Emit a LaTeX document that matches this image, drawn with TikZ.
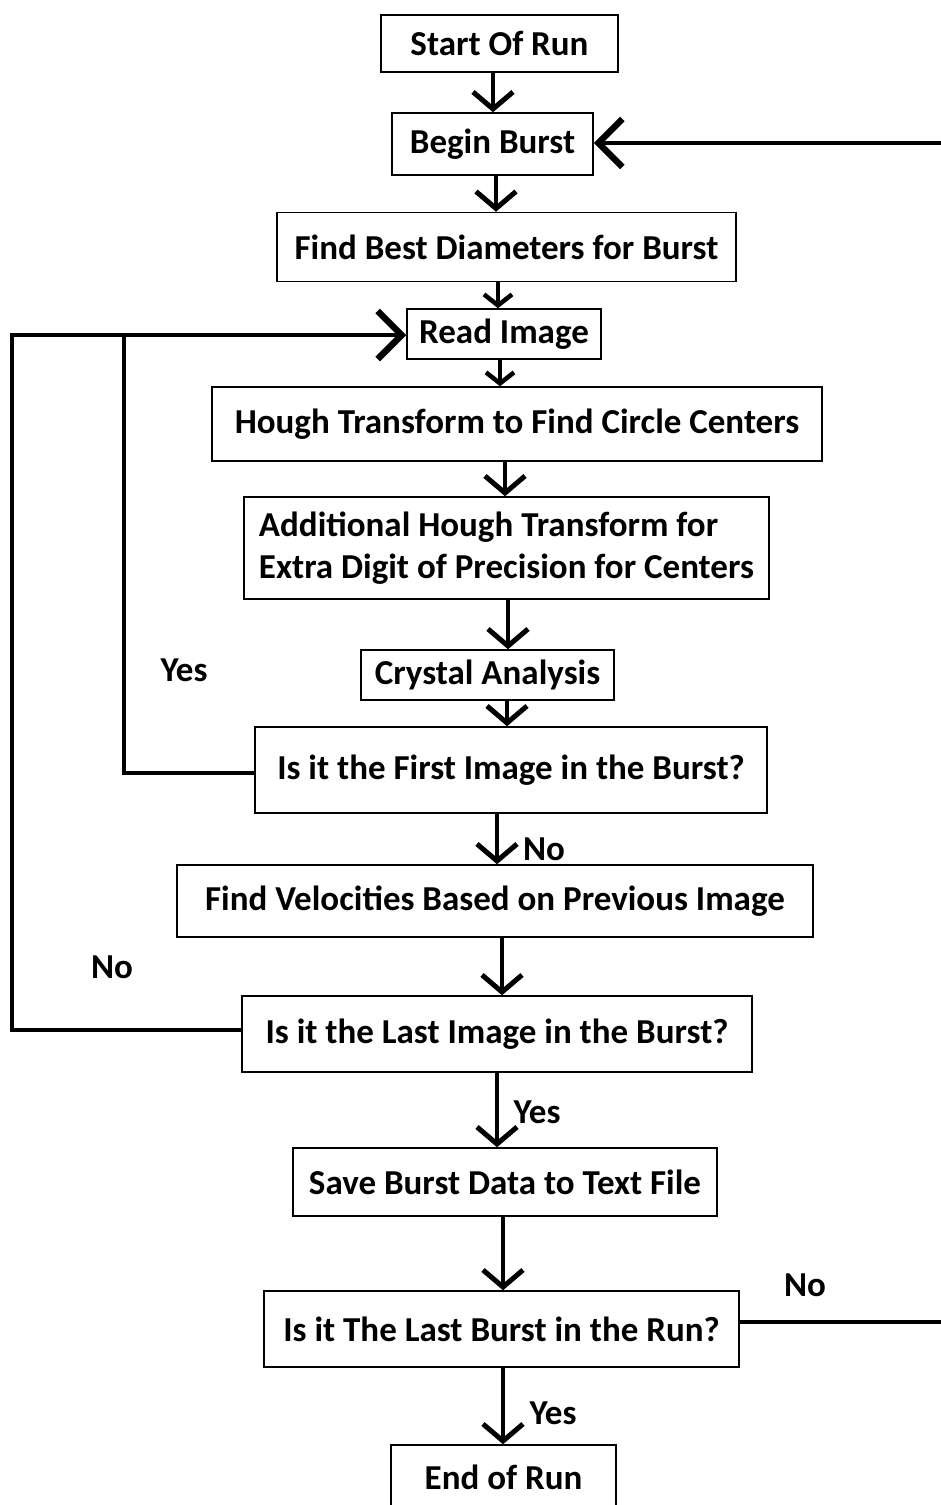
\documentclass[tikz,border=0pt]{standalone}
\usepackage{fontspec}
\setmainfont{Carlito}
\usetikzlibrary{arrows.meta}
\begin{document}
\begin{tikzpicture}[x=1pt,y=-1pt,
  box/.style={draw, line width=1.5pt, inner sep=0pt, font=\bfseries\fontsize{35}{42}\selectfont},
  lbl/.style={font=\bfseries\fontsize{35}{42}\selectfont, inner sep=0pt},
  arr/.style={line width=4pt, -{Straight Barb[length=17pt,width=40pt,line width=5pt]}},
  smallarr/.style={line width=4pt, -{Straight Barb[length=11pt,width=28pt,line width=4.5pt]}},
  bigarr/.style={line width=4.5pt, line join=miter, -{Straight Barb[length=24pt,width=48pt,line width=6.5pt]}},
  wire/.style={line width=4pt, line join=miter}]
\useasboundingbox (0,0) rectangle (940,1505);
\fill[white] (0,0) rectangle (940,1505);

% boxes
\node[box, minimum width=237pt, minimum height=57pt] (start) at (499.5,43.5) {Start Of Run};
\node[box, minimum width=201pt, minimum height=62pt] (begin) at (492.5,144) {Begin Burst};
\node[box, minimum width=459pt, minimum height=69pt] (best) at (506.5,247) {Find Best Diameters for Burst};
\node[box, minimum width=194pt, minimum height=50pt] (read) at (504,334) {Read Image};
\node[box, minimum width=610pt, minimum height=74pt] (hough) at (517,424) {Hough Transform to Find Circle Centers};
\node[box, minimum width=525pt, minimum height=102pt, align=left] (add) at (506.5,548) {Additional Hough Transform for\\Extra Digit of Precision for Centers};
\node[box, minimum width=253pt, minimum height=50pt] (crystal) at (487.5,675) {Crystal Analysis};
\node[box, minimum width=512pt, minimum height=86pt] (first) at (511,770) {Is it the First Image in the Burst?};
\node[box, minimum width=636pt, minimum height=72pt] (vel) at (495,901) {Find Velocities Based on Previous Image};
\node[box, minimum width=510pt, minimum height=76pt] (lastimg) at (497,1034) {Is it the Last Image in the Burst?};
\node[box, minimum width=424pt, minimum height=68pt] (save) at (505,1182) {Save Burst Data to Text File};
\node[box, minimum width=475pt, minimum height=76pt] (lastburst) at (501.5,1329) {Is it The Last Burst in the Run?};
\node[box, minimum width=225pt, minimum height=64pt] (end) at (503.5,1477) {End of Run};

% labels
\node[lbl] (yes1) at (184,670) {Yes};
\node[lbl] (no1) at (112,967) {No};
\node[lbl] (no2) at (544,849) {No};
\node[lbl] (yes2) at (537,1112) {Yes};
\node[lbl] (no3) at (805,1285) {No};
\node[lbl] (yes3) at (553,1413) {Yes};

% x positions of vertical arrows
\coordinate (a1) at (493,0);
\coordinate (a2) at (496,0);
\coordinate (a3) at (498,0);
\coordinate (a4) at (500,0);
\coordinate (a5) at (505,0);
\coordinate (a6) at (508,0);
\coordinate (a7) at (507,0);
\coordinate (a8) at (497,0);
\coordinate (a9) at (502,0);
\coordinate (a10) at (497,0);
\coordinate (a11) at (503,0);
\coordinate (a12) at (503,0);
\coordinate (lx) at (12,0);
\coordinate (yx) at (124,0);
\coordinate (rx) at (946,0);

\draw[arr] (start.south -| a1) -- (begin.north -| a1);
\draw[arr] (begin.south -| a2) -- (best.north -| a2);
\draw[smallarr] (best.south -| a3) -- (read.north -| a3);
\draw[smallarr] (read.south -| a4) -- (hough.north -| a4);
\draw[arr] (hough.south -| a5) -- (add.north -| a5);
\draw[arr] (add.south -| a6) -- (crystal.north -| a6);
\draw[arr] (crystal.south -| a7) -- (first.north -| a7);
\draw[arr] (first.south -| a8) -- (vel.north -| a8);
\draw[arr] (vel.south -| a9) -- (lastimg.north -| a9);
\draw[arr] (lastimg.south -| a10) -- (save.north -| a10);
\draw[arr] (save.south -| a11) -- (lastburst.north -| a11);
\draw[arr] (lastburst.south -| a12) -- (end.north -| a12);

% loop anchor points
\coordinate (liw) at ([yshift=4pt]lastimg.west);
\coordinate (fiw) at ([yshift=-3pt]first.west);
\coordinate (lbe) at ([yshift=7pt]lastburst.east);
\coordinate (bbe) at ([yshift=1pt]begin.east);
\coordinate (riw) at ([yshift=-1pt]read.west);

% loops
\draw[bigarr] (liw) -- (liw -| lx) -- (riw -| lx) -- (riw);
\draw[wire] (fiw) -- (fiw -| yx) -- (riw -| yx);
\draw[bigarr] (lbe) -- (lbe -| rx) -- (bbe -| rx) -- (bbe);
\end{tikzpicture}
\end{document}
